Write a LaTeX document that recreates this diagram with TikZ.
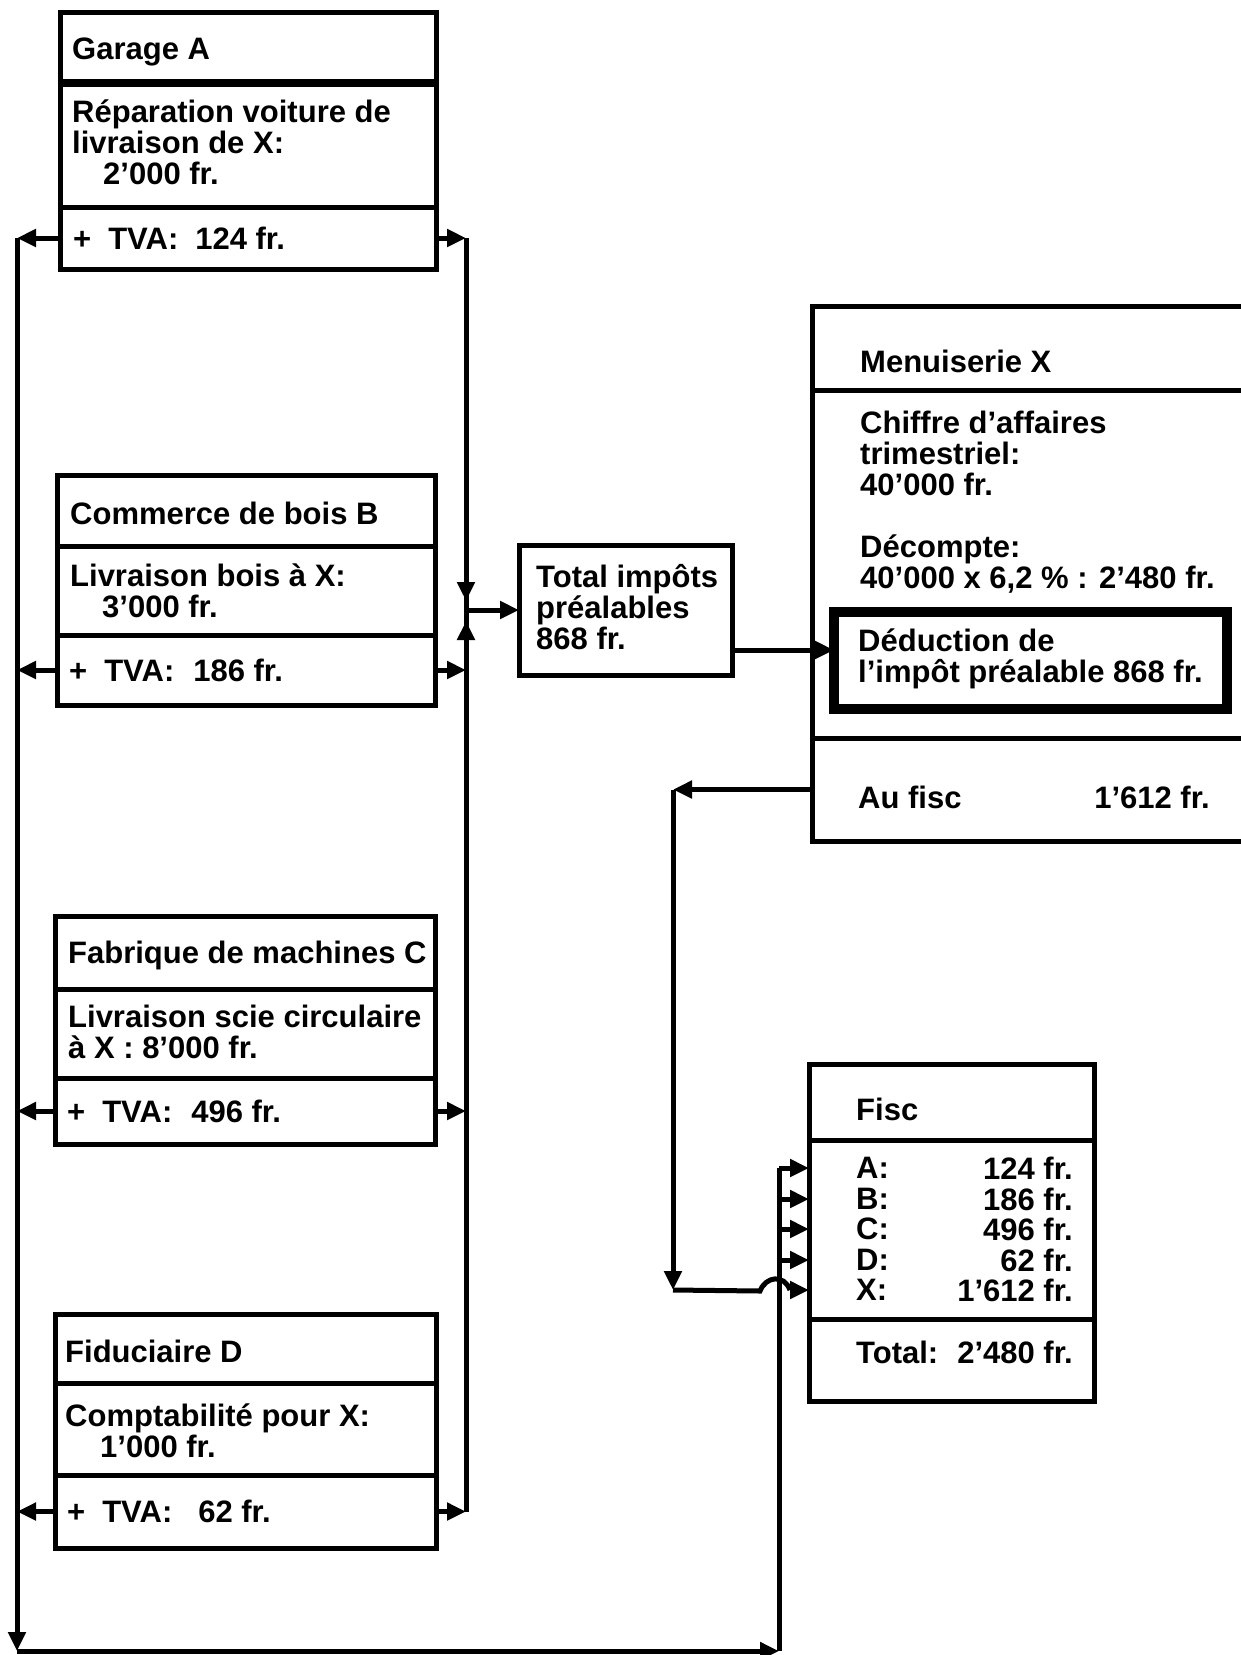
\documentclass[tikz,border=0pt]{standalone}
\usepackage{fontspec}
\setmainfont{Liberation Sans}
\usetikzlibrary{arrows.meta}
\begin{document}
\begin{tikzpicture}[x=1pt,y=-1pt,
  every node/.style={font=\fontsize{31}{31}\selectfont\bfseries},
  cell/.style={draw, line width=5pt, anchor=north west, inner sep=0pt, outer sep=0pt},
  txt/.style={anchor=west, align=left, inner sep=0pt},
  conn/.style={line width=5pt},
  arr/.style={line width=5pt, -{Triangle[length=19pt,width=17pt]}},
]
\useasboundingbox (0,0) rectangle (1240,1655);

% Garage A
\node[cell, minimum width=376pt, minimum height=71pt] (gAh) at (60,12) {};
\node[cell, minimum width=376pt, minimum height=124pt] (gAb) at (60,83) {};
\node[cell, minimum width=376pt, minimum height=62pt] (gAt) at (60,207) {};
\draw[line width=8pt] (gAh.south west) -- (gAh.south east);
\node[txt] (gAht) at ([xshift=12pt,yshift=-4pt]gAh.west) {Garage A};
\node[txt] (gAbt) at ([xshift=12pt,yshift=3pt]gAb.west) {Réparation voiture de\\livraison de X:\\\hspace{31pt}2’000 fr.};
\node[txt] (gAtt) at ([xshift=13pt]gAt.west) {+\hspace{17pt}TVA:\hspace{17pt}124 fr.};

% Commerce de bois B
\node[cell, minimum width=378pt, minimum height=71pt] (cBh) at (57,475) {};
\node[cell, minimum width=378pt, minimum height=89pt] (cBb) at (57,546) {};
\node[cell, minimum width=378pt, minimum height=70pt] (cBt) at (57,635) {};
\node[txt] (cBht) at ([xshift=13pt,yshift=-3pt]cBh.west) {Commerce de bois B};
\node[txt] (cBbt) at ([xshift=13pt]cBb.west) {Livraison bois à X:\\\hspace{32pt}3’000 fr.};
\node[txt] (cBtt) at ([xshift=12pt]cBt.west) {+\hspace{17pt}TVA:\hspace{19pt}186 fr.};

% Fabrique de machines C
\node[cell, minimum width=380pt, minimum height=73pt] (fCh) at (55,916) {};
\node[cell, minimum width=380pt, minimum height=89pt] (fCb) at (55,989) {};
\node[cell, minimum width=380pt, minimum height=66pt] (fCt) at (55,1078) {};
\node[txt] (fCht) at ([xshift=13pt,yshift=-3pt]fCh.west) {Fabrique de machines C};
\node[txt] (fCbt) at ([xshift=13pt,yshift=2pt]fCb.west) {Livraison scie circulaire\\à X : 8’000 fr.};
\node[txt] (fCtt) at ([xshift=12pt]fCt.west) {+\hspace{17pt}TVA:\hspace{19pt}496 fr.};

% Fiduciaire D
\node[cell, minimum width=381pt, minimum height=69pt] (fDh) at (55,1314) {};
\node[cell, minimum width=381pt, minimum height=92pt] (fDb) at (55,1383) {};
\node[cell, minimum width=381pt, minimum height=73pt] (fDt) at (55,1475) {};
\node[txt] (fDht) at ([xshift=10pt,yshift=-3pt]fDh.west) {Fiduciaire D};
\node[txt] (fDbt) at ([xshift=10pt,yshift=-2pt]fDb.west) {Comptabilité pour X:\\\hspace{35pt}1’000 fr.};
\node[txt] (fDtt) at ([xshift=12pt]fDt.west) {+\hspace{17pt}TVA:\hspace{26pt}62 fr.};

% Total impots prealables
\node[cell, minimum width=213pt, minimum height=130pt] (tot) at (519,545) {};
\node[txt] (tott) at (536,607) {Total impôts\\préalables\\868 fr.};

% Menuiserie X
\node[cell, minimum width=450pt, minimum height=84pt] (mxh) at (812,306) {};
\node[cell, minimum width=450pt, minimum height=348pt] (mxb) at (812,390) {};
\node[cell, minimum width=450pt, minimum height=103pt] (mxf) at (812,738) {};
\node[txt] (mxht) at (860,361) {Menuiserie X};
\node[txt] (mxc) at (860,453) {Chiffre d’affaires\\trimestriel:\\40’000 fr.};
\node[txt] (mxd) at (860,564) {Décompte:\\40’000 x 6,2 \% : 2’480 fr.};
\node[draw, line width=10pt, anchor=north west, inner sep=0pt, outer sep=0pt,
      minimum width=393pt, minimum height=97pt] (ded) at (834,612) {};
\node[txt] (dedt) at (858,659) {Déduction de\\l’impôt préalable 868 fr.};
\node[txt] (auf) at (858,797) {Au fisc};
\node[anchor=east, inner sep=0pt] (aufv) at (1210,797) {1’612 fr.};

% Fisc
\node[cell, minimum width=285pt, minimum height=76pt] (fih) at (809,1064) {};
\node[cell, minimum width=285pt, minimum height=179pt] (fib) at (809,1140) {};
\node[cell, minimum width=285pt, minimum height=82pt] (fit) at (809,1319) {};
\node[txt] (fiht) at (856,1109) {Fisc};
\node[txt] (fA) at (856,1168) {A:};
\node[txt] (fB) at (856,1199) {B:};
\node[txt] (fC) at (856,1229) {C:};
\node[txt] (fD) at (856,1260) {D:};
\node[txt] (fX) at (856,1290) {X:};
\node[anchor=east, inner sep=0pt] (vA) at (1073,1168) {124 fr.};
\node[anchor=east, inner sep=0pt] (vB) at (1073,1199) {186 fr.};
\node[anchor=east, inner sep=0pt] (vC) at (1073,1229) {496 fr.};
\node[anchor=east, inner sep=0pt] (vD) at (1073,1260) {62 fr.};
\node[anchor=east, inner sep=0pt] (vX) at (1073,1290) {1’612 fr.};
\node[txt] (fitt) at (856,1352) {Total:\hspace{19pt}2’480 fr.};

% connector coordinates
\coordinate (Lx) at (17,0);
\coordinate (Rx) at (466,0);
\coordinate (Bx) at (779,0);
\coordinate (Ax) at (673,0);
\coordinate (Lbot) at (17,1651);
\coordinate (Bbot) at (779,1651);
\coordinate (J) at (466,610);
\coordinate (Ja) at (466,570);
\coordinate (Jb) at (466,652);
\coordinate (Jaa) at (466,601);
\coordinate (Jbb) at (466,621);
\coordinate (Ty) at (0,650);
\coordinate (Hs) at (760,1291);
\coordinate (He) at (790,1290);

% left collector
\draw[arr] (gAt.west) -- (gAt.west -| Lx);
\draw[arr] (cBt.west) -- (cBt.west -| Lx);
\draw[arr] (fCt.west) -- (fCt.west -| Lx);
\draw[arr] (fDt.west) -- (fDt.west -| Lx);
\draw[arr] (gAt.west -| Lx) -- (Lbot);
\draw[arr] (Lbot) -- (Bbot);
\draw[conn] (Bbot) -- (Bx |- fA);

% right collector
\draw[arr] (gAt.east) -- (gAt.east -| Rx);
\draw[arr] (cBt.east) -- (cBt.east -| Rx);
\draw[arr] (fCt.east) -- (fCt.east -| Rx);
\draw[arr] (fDt.east) -- (fDt.east -| Rx);
\draw[conn] (gAt.east -| Rx) -- (fDt.east -| Rx);
\draw[arr] (Ja) -- (Jaa);
\draw[arr] (Jb) -- (Jbb);
\draw[arr] (J) -- (J -| tot.west);

% total -> deduction
\draw[arr] (tot.east |- Ty) -- (ded.west |- Ty);

% au fisc
\draw[arr] (mxf.west) -- (mxf.west -| Ax);
\draw[arr] (mxf.west -| Ax) -- (Ax |- fX);
\draw[conn] (Ax |- fX) -- (Hs) .. controls (766,1276) and (784,1274) .. (He);
\draw[arr] (He) -- (fib.west |- fX);

% fisc branches
\draw[arr] (Bx |- fA) -- (fib.west |- fA);
\draw[arr] (Bx |- fB) -- (fib.west |- fB);
\draw[arr] (Bx |- fC) -- (fib.west |- fC);
\draw[arr] (Bx |- fD) -- (fib.west |- fD);
\end{tikzpicture}
\end{document}
